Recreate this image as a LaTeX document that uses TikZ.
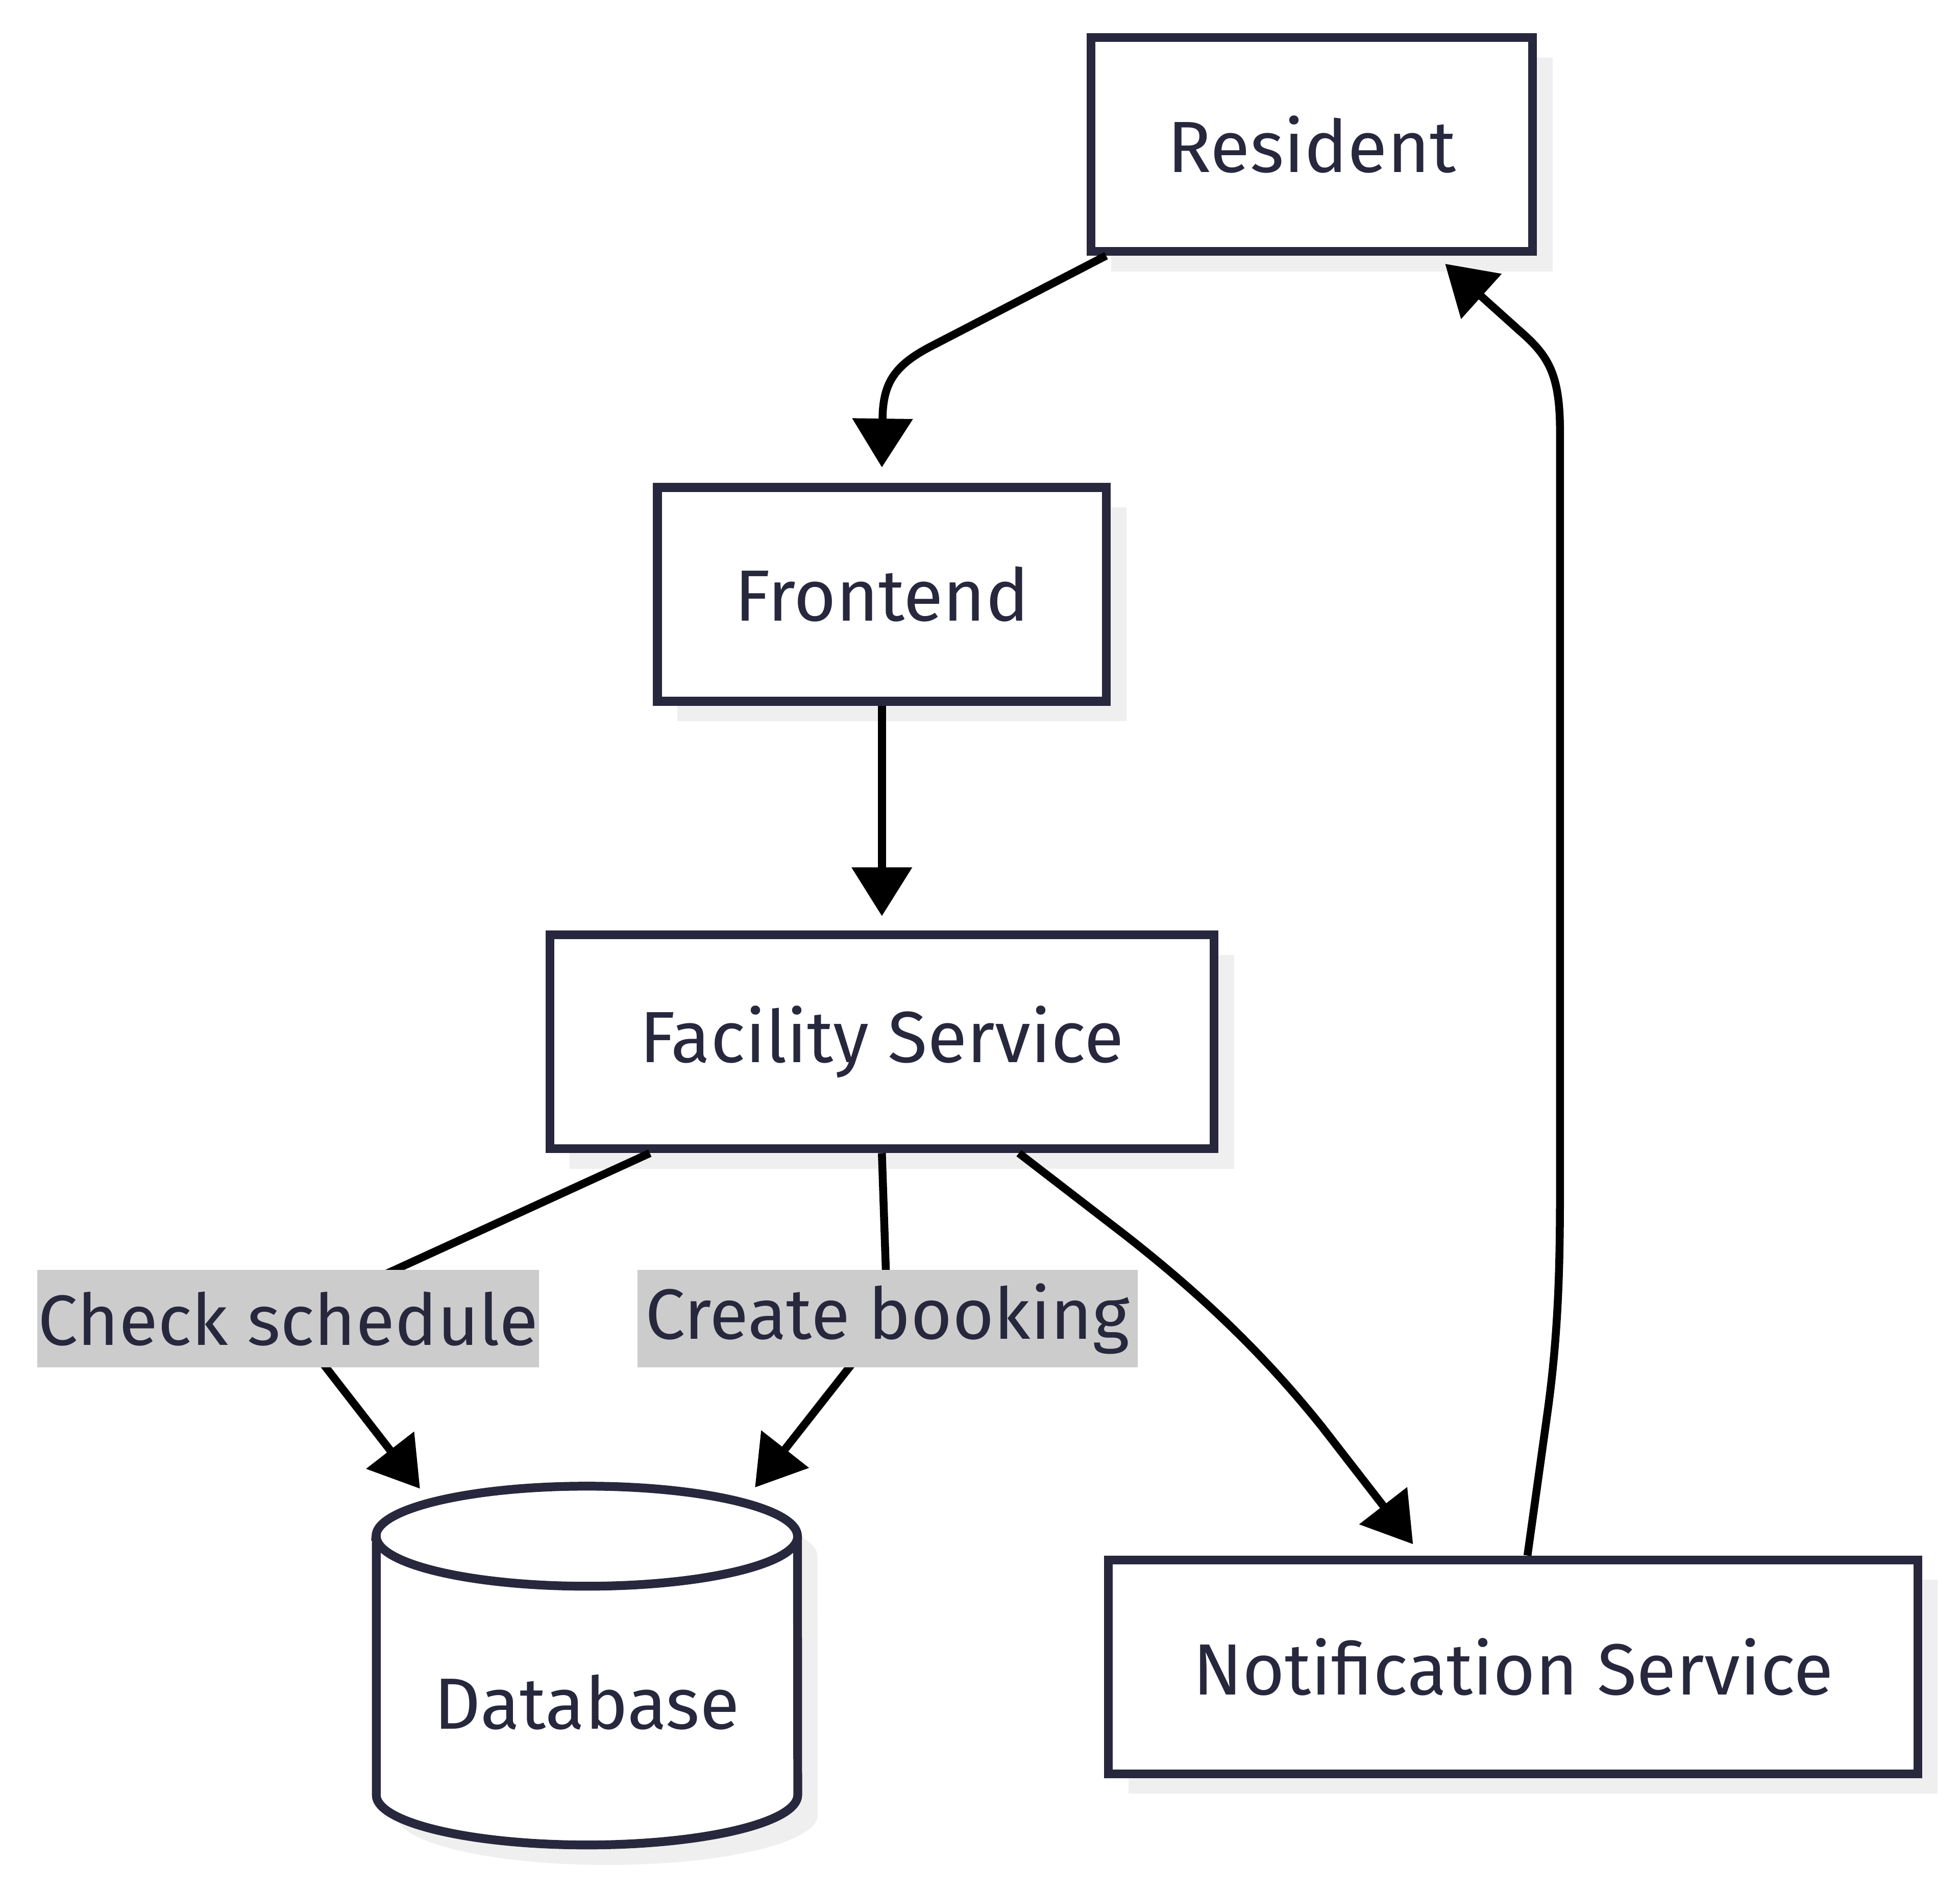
\documentclass[tikz,border=0pt]{standalone}
\usepackage{fontspec}
\setmainfont{Fira Sans}
\usetikzlibrary{arrows.meta,shadows}
\definecolor{navy}{RGB}{39,39,61}
\definecolor{shadowgray}{RGB}{239,239,239}
\definecolor{lblgray}{RGB}{204,204,204}
\begin{document}
\begin{tikzpicture}[x=0.01cm,y=-0.01cm,
  txt/.style={text=navy,font=\fontsize{16.5}{20}\selectfont},
  box/.style={txt,draw=navy,line width=2pt,fill=white,minimum height=1.71cm,inner sep=0pt,
    drop shadow={shadow xshift=0.16cm,shadow yshift=-0.16cm,fill=shadowgray,opacity=1}},
  edge/.style={draw=black,line width=1.8pt,-{Triangle[length=0.39cm,width=0.47cm]}},
  lbl/.style={text=navy,font=\fontsize{16.2}{20}\selectfont,fill=lblgray,inner sep=0pt,minimum width=4.01cm,minimum height=0.78cm}]
\useasboundingbox (0,0) rectangle (1568,1512);
\node[box,minimum width=3.53cm] (res) at (1049.5,115.5) {Resident};
\node[box,minimum width=3.59cm] (fro) at (705.5,475.5) {Frontend};
\node[box,minimum width=5.31cm] (fac) at (705.5,833.5) {Facility Service};
\node[box,minimum width=6.47cm] (nots) at (1210.5,1333.5) {Notification Service};
% database cylinder
\fill[shadowgray] (317,1245) -- (317,1452) arc[start angle=180,end angle=360,x radius=1.685cm,y radius=0.4cm] -- (654,1245) arc[start angle=0,end angle=180,x radius=1.685cm,y radius=0.4cm] -- cycle;
\filldraw[fill=white,draw=navy,line width=2pt] (301,1229) -- (301,1436) arc[start angle=180,end angle=360,x radius=1.685cm,y radius=0.4cm] -- (638,1229) arc[start angle=0,end angle=180,x radius=1.685cm,y radius=0.4cm] -- cycle;
\draw[navy,line width=2pt] (301,1229) arc[start angle=180,end angle=360,x radius=1.685cm,y radius=0.4cm];
\node[txt] (db) at (469.5,1362) {Database};
\coordinate (l1) at (230.5,1055);
\coordinate (l2) at (710,1055);
\coordinate (dbin1) at (336,1191);
\coordinate (dbin2) at (604,1190);
% edges
\draw[edge] ([xshift=0.155cm]res.south west) -- (745,277) .. controls (714,293) and (706,308) .. (706,337) -- ([yshift=0.125cm]fro.north);
\draw[edge] (fro.south) -- ([yshift=0.115cm]fac.north);
\draw[edge] ([xshift=0.835cm]fac.south west) -- (l1) -- (dbin1);
\draw[edge] (fac.south) -- (l2) -- (dbin2);
\draw[edge] ([xshift=-1.595cm]fac.south east) -- (900,988) .. controls (960,1035) and (1010,1082) .. (1058,1142) -- ([xshift=2.47cm,yshift=0.09cm]nots.north west);
\draw[edge] ([xshift=3.385cm]nots.north west) -- (1238,1130) .. controls (1247,1065) and (1248,1010) .. (1248,950) -- (1248,345) .. controls (1248,298) and (1238,284) .. (1215,264) -- ([xshift=-0.735cm,yshift=-0.065cm]res.south east);
% labels
\node[lbl] (lab1) at (l1) {Check schedule};
\node[lbl,minimum width=4.0cm] (lab2) at (l2) {Create booking};
\end{tikzpicture}
\end{document}
